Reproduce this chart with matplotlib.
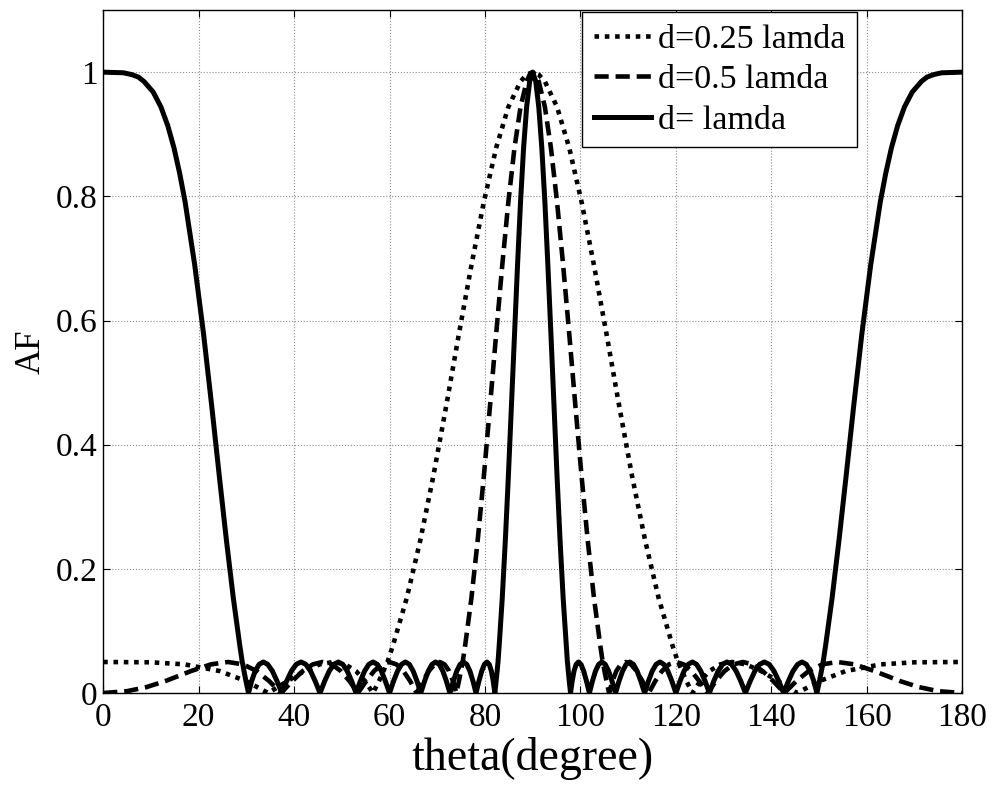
import matplotlib
matplotlib.use("Agg")
import matplotlib.pyplot as plt

# ---------------- data ----------------
series_labels = ["d=0.25 lamda", "d=0.5 lamda", "d= lamda"]

theta_q = [0, 10, 17.04, 24.40, 29.95, 34.58, 38.59, 42.14, 45.36, 48.19, 50.70, 52.97, 54.89,
           56.53, 57.78, 58.74, 59.31, 59.57, 60.73, 63.61, 66.42, 69.17, 71.87, 74.53, 77.16,
           79.76, 82.34, 84.90, 87.45, 88.73, 90,
           91.27, 92.55, 95.10, 97.66, 100.24, 102.84, 105.47, 108.13, 110.83, 113.58, 116.39,
           119.27, 120.43, 120.69, 121.26, 122.22, 123.47, 125.11, 127.03, 129.30, 131.81,
           134.64, 137.86, 141.41, 145.42, 150.05, 155.60, 162.96, 170, 180]
af_q = [0.05, 0.0495, 0.0462, 0.0354, 0.0191, 0, 0.0191, 0.0354, 0.0462, 0.05, 0.0462, 0.0354,
        0.0191, 0, 0.0191, 0.0354, 0.0462, 0.05, 0.077, 0.153, 0.245, 0.349, 0.462, 0.578,
        0.689, 0.791, 0.878, 0.944, 0.985, 0.996, 1,
        0.996, 0.985, 0.944, 0.878, 0.791, 0.689, 0.578, 0.462, 0.349, 0.245, 0.153,
        0.077, 0.05, 0.0462, 0.0354, 0.0191, 0, 0.0191, 0.0354, 0.0462, 0.05,
        0.0462, 0.0354, 0.0191, 0, 0.0191, 0.0354, 0.0462, 0.0495, 0.05]

theta_h = [0, 5, 9, 12.98, 18.41, 22.59, 26.15, 29.31, 32.16, 34.80, 37.26, 39.60, 41.81, 43.94,
           45.96, 47.92, 49.80, 51.63, 53.38, 55.10, 56.76, 58.37, 59.93, 61.44, 62.91, 64.33,
           65.69, 67.00, 68.24, 69.43, 70.53, 71.54, 72.48, 73.29, 73.99, 74.54, 74.96, 75.21,
           75.33, 75.85, 77.16, 78.46, 79.76, 81.05, 82.34, 83.62, 84.90, 86.18, 87.45, 88.73,
           89.36, 90,
           90.64, 91.27, 92.55, 93.82, 95.10, 96.38, 97.66, 98.95, 100.24, 101.54, 102.84,
           104.15, 104.67, 104.79, 105.04, 105.46, 106.01, 106.71, 107.52, 108.46, 109.47,
           110.57, 111.76, 113.00, 114.31, 115.67, 117.09, 118.56, 120.07, 121.63, 123.24,
           124.90, 126.62, 128.37, 130.20, 132.08, 134.04, 136.06, 138.19, 140.40, 142.74,
           145.20, 147.84, 150.69, 153.85, 157.41, 161.59, 167.02, 171, 175, 180]
af_h = [0, 0.003, 0.0094, 0.0191, 0.0354, 0.0462, 0.05, 0.0462, 0.0354, 0.0191, 0, 0.0191,
        0.0354, 0.0462, 0.05, 0.0462, 0.0354, 0.0191, 0, 0.0191, 0.0354, 0.0462, 0.05, 0.0462,
        0.0354, 0.0191, 0, 0.0191, 0.0354, 0.0462, 0.05, 0.0462, 0.0354, 0.0191, 0, 0.0191,
        0.0354, 0.0462, 0.05, 0.077, 0.153, 0.245, 0.349, 0.462, 0.578, 0.689, 0.791, 0.878,
        0.944, 0.985, 0.996, 1,
        0.996, 0.985, 0.944, 0.878, 0.791, 0.689, 0.578, 0.462, 0.349, 0.245, 0.153,
        0.077, 0.05, 0.0462, 0.0354, 0.0191, 0, 0.0191, 0.0354, 0.0462, 0.05,
        0.0462, 0.0354, 0.0191, 0, 0.0191, 0.0354, 0.0462, 0.05, 0.0462, 0.0354,
        0.0191, 0, 0.0191, 0.0354, 0.0462, 0.05, 0.0462, 0.0354, 0.0191, 0,
        0.0191, 0.0354, 0.0462, 0.05, 0.0462, 0.0354, 0.0191, 0.0094, 0.003, 0]

theta_1 = [0, 4.27, 6.04, 7.40, 8.55, 10.48, 12.10, 13.53, 14.84, 16.03, 17.17, 19.19, 21.04,
           22.75, 24.34, 25.84, 27.27,
           28.62, 29.14, 29.26, 29.51, 29.92, 30.45, 31.10, 31.85, 32.68, 33.56, 34.48, 35.46,
           36.43, 37.43, 38.43, 39.44, 40.45, 41.46, 42.46, 43.45, 44.43, 45.43, 46.40, 47.37,
           48.33, 49.28, 50.21, 51.14, 52.07, 52.98, 53.88, 54.78, 55.66, 56.55, 57.43, 58.29,
           59.13, 60.00, 60.84, 61.68, 62.51, 63.33, 64.15, 64.95, 65.76, 66.55, 67.34, 68.12,
           68.90, 69.66, 70.42, 71.17, 71.92, 72.65, 73.38, 74.09, 74.80, 75.49, 76.17, 76.84,
           77.49, 78.12, 78.73, 79.32, 79.88, 80.41, 80.89, 81.34, 81.73, 82.07, 82.34, 82.55,
           82.67, 82.73, 82.98, 83.62, 84.26, 84.90, 85.54, 86.18, 86.82, 87.45, 88.09, 88.73,
           89.36, 90,
           90.64, 91.27, 91.91, 92.55, 93.18, 93.82, 94.46, 95.10, 95.74, 96.38, 97.02, 97.27,
           97.33, 97.45, 97.66, 97.93, 98.27, 98.66, 99.11, 99.59, 100.12, 100.68, 101.27,
           101.88, 102.51, 103.16, 103.83, 104.51, 105.20, 105.91, 106.62, 107.35, 108.08,
           108.83, 109.58, 110.34, 111.10, 111.88, 112.66, 113.45, 114.24, 115.05, 115.85,
           116.67, 117.49, 118.32, 119.16, 120.00, 120.87, 121.71, 122.57, 123.45, 124.34,
           125.22, 126.12, 127.02, 127.93, 128.86, 129.79, 130.72, 131.67, 132.63, 133.60,
           134.57, 135.57, 136.55, 137.54, 138.54, 139.55, 140.56, 141.57, 142.57, 143.57,
           144.54, 145.52, 146.44, 147.32, 148.15, 148.90, 149.55, 150.08, 150.49, 150.74,
           150.86, 151.38, 152.73, 154.16, 155.66, 157.25, 158.96, 160.81, 162.83, 163.97,
           165.16, 166.47, 167.90, 169.52, 171.45, 172.60, 173.96, 175.73, 180]
af_1 = [1, 0.999, 0.996, 0.992, 0.985, 0.968, 0.944, 0.914, 0.878, 0.837, 0.791, 0.689, 0.578,
        0.462, 0.349, 0.245, 0.153,
        0.077, 0.05, 0.0462, 0.0354, 0.0191, 0, 0.0191, 0.0354, 0.0462, 0.05, 0.0462, 0.0354,
        0.0191, 0, 0.0191, 0.0354, 0.0462, 0.05, 0.0462, 0.0354, 0.0191, 0, 0.0191, 0.0354,
        0.0462, 0.05, 0.0462, 0.0354, 0.0191, 0, 0.0191, 0.0354, 0.0462, 0.05, 0.0462, 0.0354,
        0.0191, 0, 0.0191, 0.0354, 0.0462, 0.05, 0.0462, 0.0354, 0.0191, 0, 0.0191, 0.0354,
        0.0462, 0.05, 0.0462, 0.0354, 0.0191, 0, 0.0191, 0.0354, 0.0462, 0.05, 0.0462, 0.0354,
        0.0191, 0, 0.0191, 0.0354, 0.0462, 0.05, 0.0462, 0.0354, 0.0191, 0, 0.0191, 0.0354,
        0.0462, 0.05, 0.077, 0.153, 0.245, 0.349, 0.462, 0.578, 0.689, 0.791, 0.878, 0.944,
        0.985, 1,
        0.985, 0.944, 0.878, 0.791, 0.689, 0.578, 0.462, 0.349, 0.245, 0.153, 0.077, 0.05,
        0.0462, 0.0354, 0.0191, 0, 0.0191, 0.0354, 0.0462, 0.05, 0.0462, 0.0354, 0.0191,
        0, 0.0191, 0.0354, 0.0462, 0.05, 0.0462, 0.0354, 0.0191, 0, 0.0191,
        0.0354, 0.0462, 0.05, 0.0462, 0.0354, 0.0191, 0, 0.0191, 0.0354, 0.0462,
        0.05, 0.0462, 0.0354, 0.0191, 0, 0.0191, 0.0354, 0.0462, 0.05, 0.0462,
        0.0354, 0.0191, 0, 0.0191, 0.0354, 0.0462, 0.05, 0.0462, 0.0354, 0.0191,
        0, 0.0191, 0.0354, 0.0462, 0.05, 0.0462, 0.0354, 0.0191, 0, 0.0191,
        0.0354, 0.0462, 0.05, 0.0462, 0.0354, 0.0191, 0, 0.0191, 0.0354, 0.0462,
        0.05, 0.077, 0.153, 0.245, 0.349, 0.462, 0.578, 0.689, 0.791, 0.837,
        0.878, 0.914, 0.944, 0.968, 0.985, 0.992, 0.996, 0.999, 1]

x_ticks = [0, 20, 40, 60, 80, 100, 120, 140, 160, 180]
y_ticks = [0, 0.2, 0.4, 0.6, 0.8, 1.0]
y_tick_labels = ["0", "0.2", "0.4", "0.6", "0.8", "1"]

# ---------------- figure ----------------
plt.rcParams['font.family'] = ['Liberation Serif', 'DejaVu Serif']

fig = plt.figure(figsize=(9.92, 7.87), dpi=100)
ax = fig.add_axes([0.104, 0.1194, 0.866, 0.8678])

ax.plot(theta_q, af_q, color='black', lw=3.3, linestyle=(0, (1.0, 1.25)),
        dash_capstyle='butt', label=series_labels[0])
ax.plot(theta_h, af_h, color='black', lw=3.3, linestyle=(0, (3.1, 1.5)),
        dash_capstyle='butt', label=series_labels[1])
ax.plot(theta_1, af_1, color='black', lw=3.6, linestyle='-',
        solid_joinstyle='round', label=series_labels[2])

ax.set_xlim(0, 180)
ax.set_ylim(0, 1.1)
ax.set_xticks(x_ticks)
ax.set_yticks(y_ticks)
ax.set_yticklabels(y_tick_labels)
ax.tick_params(axis='both', which='both', direction='in', top=True, right=True,
               length=5, width=0.8, labelsize=24, colors='black')
ax.tick_params(axis='x', pad=7)
ax.tick_params(axis='y', pad=4)

ax.grid(True, color='#8c8c8c', linestyle=':', linewidth=0.8)
ax.set_axisbelow(True)
for sp in ax.spines.values():
    sp.set_linewidth(1.0)
    sp.set_color('black')

ax.set_xlabel('theta(degree)', fontsize=33, labelpad=3)
ax.set_ylabel('AF', fontsize=25, labelpad=6)

leg = ax.legend(loc='upper right', bbox_to_anchor=(0.878, 0.997), borderaxespad=0,
                fontsize=24.5, frameon=True, fancybox=False, shadow=False,
                handlelength=1.68, handletextpad=0.2, labelspacing=0.28, borderpad=0.35)
leg.get_frame().set_edgecolor('black')
leg.get_frame().set_linewidth(1.0)
leg.get_frame().set_alpha(1.0)

fig.savefig('out.png', dpi=100)
